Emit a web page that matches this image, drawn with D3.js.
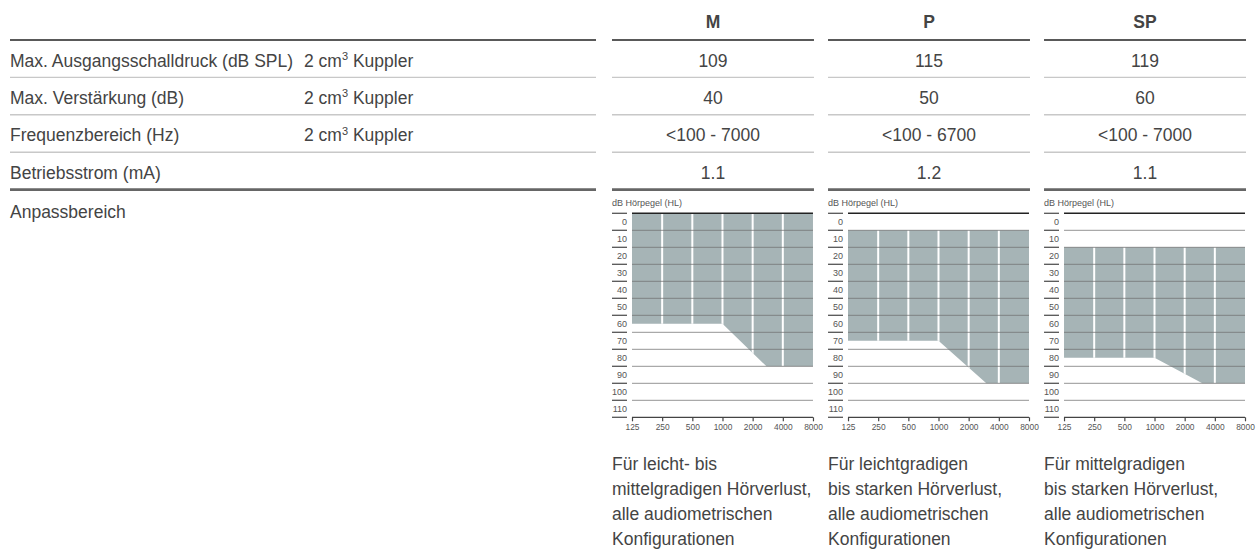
<!DOCTYPE html>
<html><head><meta charset="utf-8">
<script src="https://cdn.jsdelivr.net/npm/d3@7"></script>
<style>
body{margin:0;background:#fff}
svg text{font-family:'Liberation Sans',Arial,sans-serif;fill:#444}
svg text.small{fill:#555}
</style></head><body><svg id="c" width="1259" height="557"></svg>
<script>
// ---------- data ----------
const models = ["M", "P", "SP"];
const rowLabels = ["Max. Ausgangsschalldruck (dB SPL)", "Max. Verstärkung (dB)", "Frequenzbereich (Hz)", "Betriebsstrom (mA)"];
const rowConditions = ["2 cm³ Kuppler", "2 cm³ Kuppler", "2 cm³ Kuppler", ""];
const maxOutput = ["109", "115", "119"];
const maxGain = ["40", "50", "60"];
const freqRange = ["<100 - 7000", "<100 - 6700", "<100 - 7000"];
const operatingCurrent = ["1.1", "1.2", "1.1"];
const fittingLabel = "Anpassbereich";
const yAxisTitle = "dB Hörpegel (HL)";
const dbTicks = [0, 10, 20, 30, 40, 50, 60, 70, 80, 90, 100, 110];
const freqTicks = [125, 250, 500, 1000, 2000, 4000, 8000];
const fitTop = [0, 10, 20];
const fitBottomM = [[125, 65], [1000, 65], [2750, 90], [8000, 90]];
const fitBottomP = [[125, 75], [1000, 75], [3000, 100], [8000, 100]];
const fitBottomSP = [[125, 85], [1000, 85], [3000, 100], [8000, 100]];
const descM = ["Für leicht- bis", "mittelgradigen Hörverlust,", "alle audiometrischen", "Konfigurationen"];
const descP = ["Für leichtgradigen", "bis starken Hörverlust,", "alle audiometrischen", "Konfigurationen"];
const descSP = ["Für mittelgradigen", "bis starken Hörverlust,", "alle audiometrischen", "Konfigurationen"];

const tableValues = [maxOutput, maxGain, freqRange, operatingCurrent];
const fitBottoms = [fitBottomM, fitBottomP, fitBottomSP];
const descs = [descM, descP, descSP];

// ---------- layout ----------
const svg = d3.select("#c");
const col = d3.scaleBand().domain(models).range([612, 1246]).paddingInner(0.065);
const bw = col.bandwidth();
const leftX0 = 10, leftX1 = 596, condX = 304;
const rowTop = 40, rowH = 37.4;
const rowY = i => rowTop + i * rowH;
const FS = 17.5;

// header
svg.selectAll("text.hdr").data(models).join("text").attr("class", "hdr")
  .attr("x", d => col(d) + bw / 2).attr("y", 28).attr("text-anchor", "middle")
  .attr("font-size", FS).attr("font-weight", "bold").attr("fill", "#333").text(d => d);

// row lines
const lineStyle = i => i === 0 ? ["#222", 1.6] : (i === 4 ? ["#666", 2.6] : ["#c8c8c8", 1.4]);
const spans = [[leftX0, leftX1]].concat(models.map(m => [col(m), col(m) + bw]));
d3.range(5).forEach(i => {
  svg.append("g").selectAll("line").data(spans).join("line")
    .attr("x1", d => d[0]).attr("x2", d => d[1])
    .attr("y1", rowY(i)).attr("y2", rowY(i))
    .attr("stroke", lineStyle(i)[0]).attr("stroke-width", lineStyle(i)[1]);
});

// row labels, conditions, values
rowLabels.forEach((lab, i) => {
  const by = rowY(i) + 26.5;
  svg.append("text").attr("x", leftX0).attr("y", by).attr("font-size", FS).text(lab);
  const cond = rowConditions[i];
  if (cond) {
    const parts = cond.split("³");
    const t = svg.append("text").attr("x", condX).attr("y", by).attr("font-size", FS);
    t.append("tspan").text(parts[0]);
    t.append("tspan").attr("font-size", 11).attr("dy", -6.5).text("3");
    t.append("tspan").attr("dy", 6.5).text(parts[1]);
  }
  svg.append("g").selectAll("text").data(tableValues[i]).join("text")
    .attr("x", (d, j) => col(models[j]) + bw / 2).attr("y", by)
    .attr("text-anchor", "middle").attr("font-size", FS).text(d => d);
});
svg.append("text").attr("x", leftX0).attr("y", 218).attr("font-size", FS).text(fittingLabel);

// audiograms
const y = d3.scaleLinear().domain([0, 120]).range([213.3, 417.3]);
models.forEach((m, k) => {
  const cx0 = col(m);
  const pl = cx0 + 20, pr = cx0 + bw - 1;
  const x = d3.scaleLog().base(2).domain([125, 8000]).range([pl, pr]);
  const g = svg.append("g");

  g.append("text").attr("class", "small").attr("x", cx0).attr("y", 205.5)
    .attr("font-size", 9).text(yAxisTitle);

  const bottom = fitBottoms[k];
  const area = d3.area().x(d => x(d[0])).y0(y(fitTop[k])).y1(d => y(d[1]));
  const pathD = area(bottom);
  g.append("clipPath").attr("id", "clip" + k).append("path").attr("d", pathD);
  g.append("path").attr("d", pathD).attr("fill", "#a6b4b6");
  g.append("g").attr("clip-path", `url(#clip${k})`).selectAll("line")
    .data(freqTicks.slice(1, -1)).join("line")
    .attr("x1", d => x(d)).attr("x2", d => x(d))
    .attr("y1", y(0)).attr("y2", y(120))
    .attr("stroke", "#fff").attr("stroke-width", 2);

  // horizontal grid
  g.append("g").selectAll("line").data(dbTicks.slice(1)).join("line")
    .attr("x1", pl).attr("x2", pr).attr("y1", d => y(d)).attr("y2", d => y(d))
    .attr("stroke", "#707070").attr("stroke-opacity", 0.6).attr("stroke-width", 1.3);
  g.append("line").attr("x1", pl).attr("x2", pr).attr("y1", y(0)).attr("y2", y(0))
    .attr("stroke", "#222").attr("stroke-width", 1.4);

  // left ticks and labels
  g.append("g").selectAll("line").data(dbTicks.concat([120])).join("line")
    .attr("x1", cx0).attr("x2", cx0 + 15).attr("y1", d => y(d)).attr("y2", d => y(d))
    .attr("stroke", "#555").attr("stroke-width", 1.3);
  g.append("g").selectAll("text").data(dbTicks).join("text").attr("class", "small")
    .attr("x", cx0 + 15).attr("y", d => y(d + 5)).attr("dy", "0.35em")
    .attr("text-anchor", "end").attr("font-size", 9).text(d => d);

  // bottom axis
  const xAxis = d3.axisBottom(x).tickValues(freqTicks).tickFormat(d3.format("d"))
    .tickSize(4).tickPadding(3);
  const ax = g.append("g").attr("transform", `translate(0,${y(120)})`).call(xAxis);
  ax.select(".domain").attr("stroke", "#444").attr("stroke-width", 1.3).attr("d", `M${pl},0H${pr}`);
  ax.selectAll(".tick line").attr("stroke", "#444").attr("stroke-width", 1.2);
  ax.selectAll(".tick text").attr("class", "small").attr("font-size", 8.4)
    .attr("font-family", null).attr("fill", null);

  // description
  g.append("g").selectAll("text").data(descs[k]).join("text")
    .attr("x", cx0).attr("y", (d, i) => 470 + i * 25).attr("font-size", FS).text(d => d);
});
</script></body></html>
